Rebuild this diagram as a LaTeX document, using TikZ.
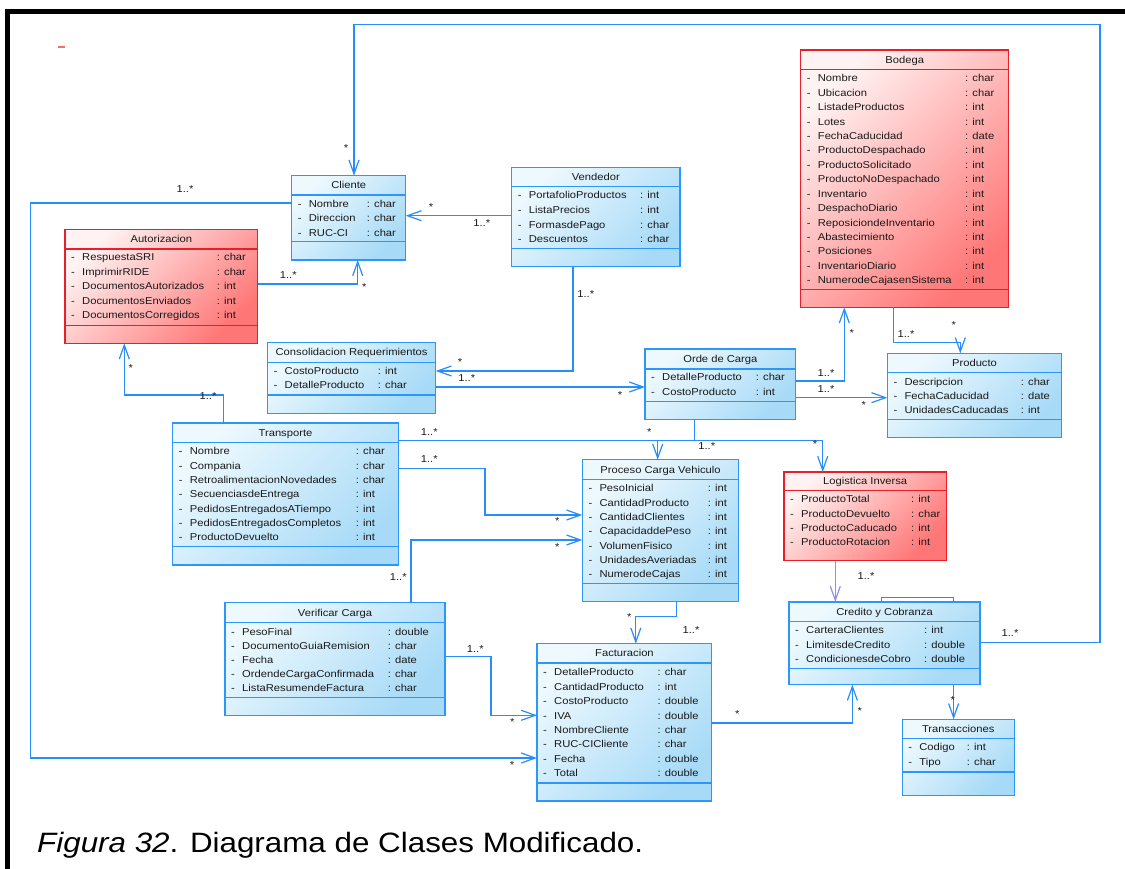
\documentclass[tikz,border=0pt]{standalone}
\usepackage{fontspec}
\setmainfont{Liberation Sans}[FakeStretch=1.12]
\usetikzlibrary{arrows.meta}
\definecolor{lineblue}{RGB}{40,140,250}
\definecolor{boxblue}{RGB}{45,150,250}
\definecolor{fillblueA}{RGB}{238,249,254}
\definecolor{fillblueB}{RGB}{166,218,247}
\definecolor{boxred}{RGB}{232,30,40}
\definecolor{fillredA}{RGB}{255,242,242}
\definecolor{fillredB}{RGB}{255,118,118}
\definecolor{linepurple}{RGB}{150,140,235}
\definecolor{txtcol}{RGB}{25,25,25}
\newcommand\umlbox[9]{%
  \node[#2, anchor=north west, minimum width={#5-#3}, minimum height={#6-#4}] (#1) at (#3,#4) {};
  \draw[#2line] (#3,#7) -- (#5,#7);
  \draw[#2line] (#3,#8) -- (#5,#8);
  \node[txt, anchor=base] at ({(#3+#5)/2},{(#4+#7)/2+3.6}) {#9};
}
\newcommand\attrs[5]{%
  \foreach \aname/\atype [count=\ai from 0] in {#5} {
    \node[txt, anchor=base west] at (#1+6, #3+\ai*#4+3.5) {-};
    \node[txt, anchor=base west] at (#1+17, #3+\ai*#4+3.5) {\aname};
    \node[txt, anchor=base west] at (#2, #3+\ai*#4+3.5) {: \atype};
  }
}
\begin{document}
\begin{tikzpicture}[x=1pt,y=-1pt,
  txt/.style={font=\fontsize{10}{12}\selectfont, text=txtcol, inner sep=0pt},
  lbl/.style={font=\fontsize{10}{12}\selectfont, text=txtcol, inner sep=0pt},
  bluebox/.style={draw=boxblue, line width=1.1pt, top color=fillblueA, bottom color=fillblueB, shading angle=45, inner sep=0pt, outer sep=0pt},
  redbox/.style={draw=boxred, line width=1.1pt, top color=fillredA, bottom color=fillredB, shading angle=45, inner sep=0pt, outer sep=0pt},
  blueboxline/.style={draw=boxblue, line width=1.1pt},
  redboxline/.style={draw=boxred, line width=1.1pt},
  assoc/.style={draw=lineblue, line width=1.2pt, -{Straight Barb[length=14pt,width=10pt]}},
  plain/.style={draw=lineblue, line width=1.2pt},
]
\useasboundingbox (0,0) rectangle (1125,869);
\fill[white] (0,0) rectangle (1125,869);
% frame
\draw[black, line width=5pt] (7.5,875) -- (7.5,12) -- (1130,12);
\draw[red!60, line width=1.5pt] (58,47) -- (65,47);

% ---------- boxes ----------
\umlbox{cliente}{bluebox}{291.7}{175.7}{405.7}{260}{195}{241.7}{Cliente}
\attrs{291.7}{366.7}{204}{14.5}{Nombre/char, Direccion/char, RUC-CI/char}

\umlbox{autorizacion}{redbox}{65}{229.3}{257.7}{343.3}{249}{325.3}{Autorizacion}
\attrs{65}{216.7}{257.3}{14.5}{RespuestaSRI/char, ImprimirRIDE/char, DocumentosAutorizados/int, DocumentosEnviados/int, DocumentosCorregidos/int}

\umlbox{vendedor}{bluebox}{511.7}{167.3}{680}{266.7}{186.7}{248.7}{Vendedor}
\attrs{511.7}{640}{195.5}{14.6}{PortafolioProductos/int, ListaPrecios/int, FormasdePago/char, Descuentos/char}

\umlbox{bodega}{redbox}{800.7}{50}{1008.7}{307.3}{69.3}{289.3}{Bodega}
\attrs{800.7}{965}{78.3}{14.43}{Nombre/char, Ubicacion/char, ListadeProductos/int, Lotes/int, FechaCaducidad/date, ProductoDespachado/int, ProductoSolicitado/int, ProductoNoDespachado/int, Inventario/int, DespachoDiario/int, ReposiciondeInventario/int, Abastecimiento/int, Posiciones/int, InventarioDiario/int, NumerodeCajasenSistema/int}

\umlbox{consolidacion}{bluebox}{267.5}{342.3}{435.7}{413.3}{362.3}{395}{Consolidacion Requerimientos}
\attrs{267.5}{377.7}{370.5}{14.5}{CostoProducto/int, DetalleProducto/char}

\umlbox{orde}{bluebox}{645}{349}{795.7}{419.3}{369}{401.7}{Orde de Carga}
\attrs{645}{755.7}{377.3}{15}{DetalleProducto/char, CostoProducto/int}

\umlbox{producto}{bluebox}{887.3}{353.3}{1061.7}{437.3}{372.7}{419.3}{Producto}
\attrs{887.3}{1020.7}{382}{14}{Descripcion/char, FechaCaducidad/date, UnidadesCaducadas/int}

\umlbox{transporte}{bluebox}{172.7}{423}{398.3}{565}{442.3}{546.7}{Transporte}
\attrs{172.7}{355.7}{451.3}{14.33}{Nombre/char, Compania/char, RetroalimentacionNovedades/char, SecuenciasdeEntrega/int, PedidosEntregadosATiempo/int, PedidosEntregadosCompletos/int, ProductoDevuelto/int}

\umlbox{proceso}{bluebox}{582.3}{459.7}{738.7}{601.7}{479.7}{583.3}{Proceso Carga Vehiculo}
\attrs{582.3}{707.7}{488.3}{14.33}{PesoInicial/int, CantidadProducto/int, CantidadClientes/int, CapacidaddePeso/int, VolumenFisico/int, UnidadesAveriadas/int, NumerodeCajas/int}

\umlbox{logistica}{redbox}{784}{472}{946.3}{560.7}{490.7}{490.7}{Logistica Inversa}
\attrs{784}{911}{499.3}{14.33}{ProductoTotal/int, ProductoDevuelto/char, ProductoCaducado/int, ProductoRotacion/int}

\umlbox{credito}{bluebox}{789}{602}{980}{684.7}{621.7}{668.7}{Credito y Cobranza}
\attrs{789}{924}{630.3}{14.5}{CarteraClientes/int, LimitesdeCredito/double, CondicionesdeCobro/double}

\umlbox{transacciones}{bluebox}{902.2}{719.3}{1014.2}{795.7}{738.7}{772}{Transacciones}
\attrs{902.2}{966.7}{747.3}{15}{Codigo/int, Tipo/char}

\umlbox{facturacion}{bluebox}{537}{643.7}{711.9}{801}{663}{783}{Facturacion}
\attrs{537}{657.4}{672.3}{14.43}{DetalleProducto/char, CantidadProducto/int, CostoProducto/double, IVA/double, NombreCliente/char, RUC-CICliente/char, Fecha/double, Total/double}

\umlbox{verificar}{bluebox}{225}{602.7}{445}{715.7}{622.3}{697.3}{Verificar Carga}
\attrs{225}{387.7}{631.7}{14.15}{PesoFinal/double, DocumentoGuiaRemision/char, Fecha/date, OrdendeCargaConfirmada/char, ListaResumendeFactura/char}

% ---------- connectors ----------
% Vendedor -> Cliente
\draw[assoc] (vendedor.west |- 0,215.7) -- (cliente.east |- 0,215.7);
\node[lbl] at (431,206.7) {*};
\node[lbl] at (481.7,223) {1..*};
% Autorizacion -> Cliente
\draw[assoc] (autorizacion.east |- 0,284) -| (cliente.south -| 357.7,0);
\node[lbl] at (288.3,274.7) {1..*};
\node[lbl] at (364.3,287) {*};
% Cliente -> Facturacion
\draw[assoc] (cliente.west |- 0,203) -- (30.3,203) -- (30.3,758) -- (facturacion.west |- 0,758);
\node[lbl] at (185,189) {1..*};
\node[lbl] at (512,765) {*};
% Credito -> Cliente (big loop)
\draw[assoc] (credito.east |- 0,642.7) -- (1100,642.7) -- (1100,24.3) -- (354,24.3) -- (cliente.north -| 354,0);
\node[lbl] at (1010,632.7) {1..*};
\node[lbl] at (346,148) {*};
% Vendedor -> Consolidacion
\draw[assoc] (vendedor.south -| 573,0) |- (consolidacion.east |- 0,371);
\node[lbl] at (585.7,294) {1..*};
\node[lbl] at (460,362) {*};
% Consolidacion -> Orde
\draw[assoc] (consolidacion.east |- 0,387) -- (orde.west |- 0,387);
\node[lbl] at (466.7,378) {1..*};
\node[lbl] at (620,395) {*};
% Orde -> Bodega
\draw[assoc] (orde.east |- 0,381) -| (bodega.south -| 844.3,0);
\node[lbl] at (826,373.3) {1..*};
\node[lbl] at (851.7,333.5) {*};
% Orde -> Producto
\draw[assoc] (orde.east |- 0,397.7) -- (producto.west |- 0,397.7);
\node[lbl] at (826,389) {1..*};
\node[lbl] at (863.7,405.5) {*};
% Bodega -> Producto
\draw[assoc] (bodega.south -| 893.7,0) |- (960.3,342.7) -- (producto.north -| 960.3,0);
\node[lbl] at (906,334) {1..*};
\node[lbl] at (953.7,325) {*};
% Transporte -> Autorizacion
\draw[assoc] (transporte.north -| 223.3,0) |- (124.3,395) -- (autorizacion.south -| 124.3,0);
\node[lbl] at (208,396) {1..*};
\node[lbl] at (130.7,368) {*};
% Transporte -> Logistica
\draw[assoc] (transporte.east |- 0,440.3) -| (logistica.north -| 822.7,0);
\node[lbl] at (429.3,431.7) {1..*};
\node[lbl] at (815,444.5) {*};
% Orde -> Proceso
\draw[assoc] (orde.south -| 694.3,0) |- (657.7,440.3) -- (proceso.north -| 657.7,0);
\node[lbl] at (649.3,432.5) {*};
\node[lbl] at (706.7,446) {1..*};
% Transporte -> Proceso
\draw[assoc] (transporte.east |- 0,468.3) -| (485,515) -- (proceso.west |- 0,515);
\node[lbl] at (429.3,459) {1..*};
\node[lbl] at (557.3,521.5) {*};
% Verificar -> Proceso
\draw[assoc] (verificar.north -| 411,0) |- (proceso.west |- 0,540);
\node[lbl] at (398.3,576.7) {1..*};
\node[lbl] at (557.3,546.8) {*};
% Proceso -> Facturacion
\draw[assoc] (proceso.south -| 676.7,0) |- (635.8,616.7) -- (facturacion.north -| 635.8,0);
\node[lbl] at (629.3,617.5) {*};
\node[lbl] at (691,630.3) {1..*};
% Verificar -> Facturacion
\draw[assoc] (verificar.east |- 0,656.3) -| (491,715.3) -- (facturacion.west |- 0,715.3);
\node[lbl] at (475.3,648.7) {1..*};
\node[lbl] at (512.3,722.5) {*};
% Facturacion -> Credito
\draw[assoc] (facturacion.east |- 0,723) -| (credito.south -| 852.4,0);
\node[lbl] at (737.4,713.8) {*};
\node[lbl] at (859.8,710.8) {*};
% Logistica -> Credito
\draw[draw=linepurple, line width=1.2pt, -{Straight Barb[length=14pt,width=10pt]}] (logistica.south -| 835.3,0) -- (credito.north -| 835.3,0);
\node[lbl] at (866,576) {1..*};
% Credito -> Transacciones
\draw[assoc] (credito.south -| 953.6,0) -- (transacciones.north -| 953.6,0);
\node[lbl] at (952.8,700) {*};
% Credito self association
\draw[plain] (credito.north -| 881.7,0) |- (953.3,597.5) -- (credito.north -| 953.3,0);

% caption
\node[anchor=base west, inner sep=0pt, font=\fontsize{28}{32}\selectfont, text=black] (caption) at (37,852) {\textit{Figura 32}. Diagrama de Clases Modificado.};
\end{tikzpicture}
\end{document}
